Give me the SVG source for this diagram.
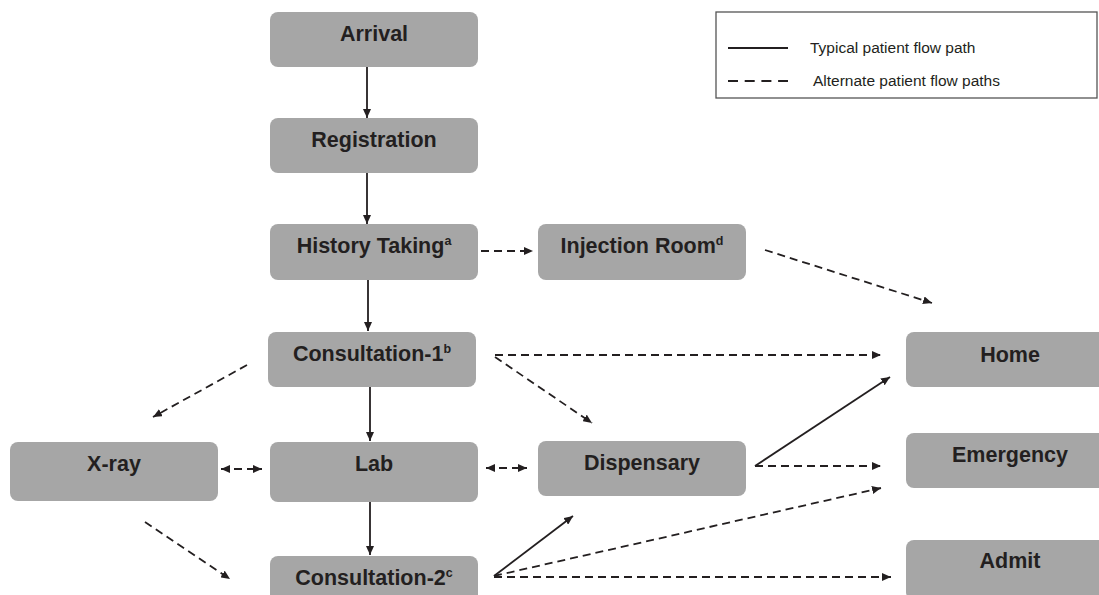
<svg xmlns="http://www.w3.org/2000/svg" width="1099" height="595" viewBox="0 0 1099 595">
<style>
.node rect{fill:#a6a6a6;}
.node text{font-family:"Liberation Sans",Arial,sans-serif;font-weight:bold;font-size:21.5px;fill:#231f20;text-anchor:middle;}
.sup{font-size:12.5px;}
.solid{stroke:#231f20;stroke-width:1.8;fill:none;marker-end:url(#ah);}
.dash{stroke:#231f20;stroke-width:1.8;fill:none;stroke-dasharray:8 5;marker-end:url(#ah);}
.both{marker-start:url(#ah);}
.leg{font-family:"Liberation Sans",Arial,sans-serif;font-size:15.5px;fill:#231f20;}
</style>
<defs>
<marker id="ah" markerWidth="9" markerHeight="8" refX="9" refY="4" orient="auto-start-reverse" markerUnits="userSpaceOnUse">
<path d="M0,0 L9,4 L0,8 z" fill="#231f20"/>
</marker>
</defs>
<rect width="1099" height="595" fill="#ffffff"/>

<g id="legend">
<rect x="716" y="12" width="381" height="86" fill="#ffffff" stroke="#555555" stroke-width="1.3"/>
<line x1="728" y1="48" x2="788" y2="48" stroke="#231f20" stroke-width="1.8"/>
<line x1="728" y1="81" x2="788" y2="81" stroke="#231f20" stroke-width="1.8" stroke-dasharray="10 6.7"/>
<text class="leg" x="810" y="53">Typical patient flow path</text>
<text class="leg" x="813" y="86">Alternate patient flow paths</text>
</g>

<g id="connectors">
<line class="solid" x1="367" y1="67" x2="367" y2="118"/>
<line class="solid" x1="367" y1="173" x2="367" y2="224"/>
<line class="dash" x1="481" y1="251" x2="533" y2="251"/>
<line class="solid" x1="368" y1="280" x2="368" y2="331"/>
<line class="solid" x1="370" y1="387" x2="370" y2="441"/>
<line class="solid" x1="370" y1="502" x2="370" y2="555"/>
<line class="dash" x1="765" y1="250" x2="932" y2="303"/>
<line class="dash" x1="495" y1="355" x2="881" y2="355"/>
<line class="dash" x1="495" y1="357" x2="592" y2="423"/>
<line class="dash" x1="247" y1="365" x2="153" y2="417"/>
<line class="dash both" x1="221" y1="469" x2="262" y2="469"/>
<line class="dash both" x1="486" y1="468" x2="527" y2="468"/>
<line class="dash" x1="145" y1="522" x2="230" y2="579"/>
<line class="solid" x1="755" y1="466" x2="890" y2="377"/>
<line class="dash" x1="755" y1="466" x2="881" y2="466"/>
<line class="solid" x1="494" y1="576" x2="573" y2="516"/>
<line class="dash" x1="494" y1="576" x2="881" y2="488"/>
<line class="dash" x1="494" y1="577" x2="891" y2="577"/>
</g>

<g id="arrival" class="node"><rect x="270" y="12" width="208" height="55" rx="8"/><text x="374" y="41">Arrival</text></g>
<g id="registration" class="node"><rect x="270" y="118" width="208" height="55" rx="8"/><text x="374" y="147">Registration</text></g>
<g id="history" class="node"><rect x="270" y="224" width="208" height="56" rx="8"/><text x="374" y="253">History Taking<tspan class="sup" dy="-8">a</tspan></text></g>
<g id="injection" class="node"><rect x="538" y="224" width="208" height="56" rx="8"/><text x="642" y="253">Injection Room<tspan class="sup" dy="-8">d</tspan></text></g>
<g id="consultation1" class="node"><rect x="268" y="332" width="208" height="55" rx="8"/><text x="372" y="361">Consultation-1<tspan class="sup" dy="-8">b</tspan></text></g>
<g id="home" class="node"><rect x="906" y="332" width="200" height="55" rx="8"/><text x="1010" y="362">Home</text></g>
<g id="xray" class="node"><rect x="10" y="442" width="208" height="59" rx="8"/><text x="114" y="471">X-ray</text></g>
<g id="lab" class="node"><rect x="270" y="442" width="208" height="60" rx="8"/><text x="374" y="471">Lab</text></g>
<g id="dispensary" class="node"><rect x="538" y="441" width="208" height="55" rx="8"/><text x="642" y="470">Dispensary</text></g>
<g id="emergency" class="node"><rect x="906" y="433" width="200" height="55" rx="8"/><text x="1010" y="462">Emergency</text></g>
<g id="consultation2" class="node"><rect x="270" y="556" width="208" height="60" rx="8"/><text x="374" y="585">Consultation-2<tspan class="sup" dy="-8">c</tspan></text></g>
<g id="admit" class="node"><rect x="906" y="540" width="200" height="60" rx="8"/><text x="1010" y="568">Admit</text></g>
</svg>
